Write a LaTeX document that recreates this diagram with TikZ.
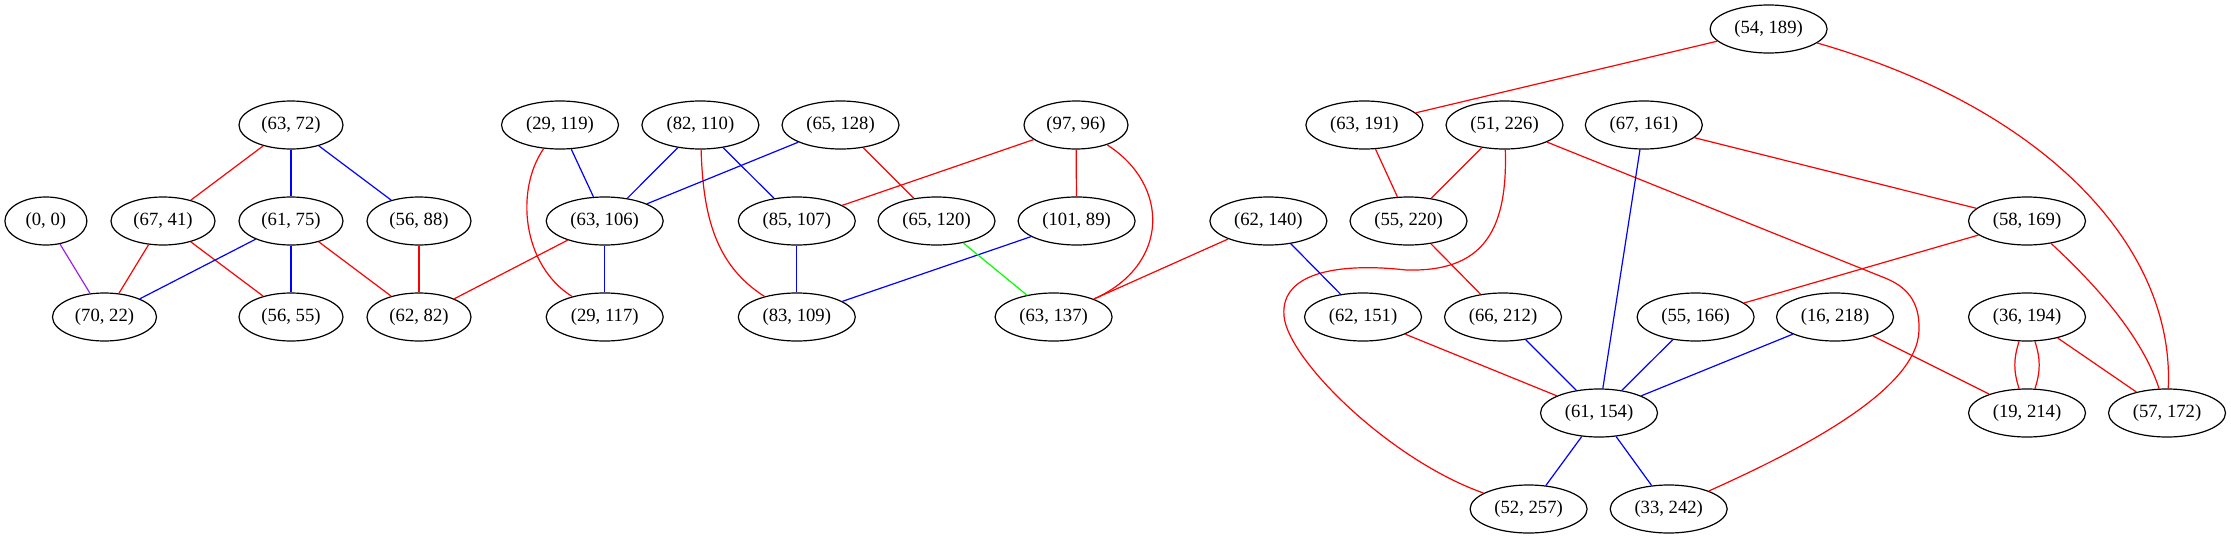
\documentclass[tikz,border=0pt]{standalone}
\usepackage{fontspec}
\setmainfont{Liberation Serif}
\usepackage{tikz}
\usetikzlibrary{shapes.geometric}
\definecolor{gvpurple}{RGB}{160,32,240}
\definecolor{gvgreen}{RGB}{0,255,0}

\begin{document}
\begin{tikzpicture}[x=0.75pt,y=-0.75pt,line width=0.9pt]
  \useasboundingbox (0,0) rectangle (2231,539);
  \begin{scope}[every node/.style={ellipse,draw,line width=0.9pt,inner sep=0pt,minimum width=78pt,minimum height=36pt,font=\fontsize{14pt}{16pt}\selectfont},
                wide/.style={minimum width=87.75pt}]
    % Top rows
    \node[wide] (p54_189) at (1768.6,29) {(54, 189)};
    \node (p63_72) at (291,125) {(63, 72)};
    \node[wide] (p29_119) at (560,125) {(29, 119)};
    \node[wide] (p82_110) at (700.4,125) {(82, 110)};
    \node[wide] (p65_128) at (840.5,125) {(65, 128)};
    \node (p97_96) at (1076,125) {(97, 96)};
    \node[wide] (p63_191) at (1364.4,125) {(63, 191)};
    \node[wide] (p51_226) at (1504.5,125) {(51, 226)};
    \node[wide] (p67_161) at (1643.8,125) {(67, 161)};

    % Middle row
    \node[minimum width=61.5pt] (p0_0) at (45.9,221) {(0, 0)};
    \node (p67_41) at (163,221) {(67, 41)};
    \node (p61_75) at (291,221) {(61, 75)};
    \node (p56_88) at (419,221) {(56, 88)};
    \node[wide] (p63_106) at (604.7,221) {(63, 106)};
    \node[wide] (p85_107) at (796.8,221) {(85, 107)};
    \node[wide] (p65_120) at (936.5,221) {(65, 120)};
    \node[wide] (p101_89) at (1076.6,221) {(101, 89)};
    \node[wide] (p62_140) at (1268.4,221) {(62, 140)};
    \node[wide] (p55_220) at (1408.5,221) {(55, 220)};
    \node[wide] (p58_169) at (2027,221) {(58, 169)};

    % Lower rows
    \node (p70_22) at (104.5,317) {(70, 22)};
    \node (p56_55) at (291,317) {(56, 55)};
    \node (p62_82) at (419,317) {(62, 82)};
    \node[wide] (p29_117) at (604.7,317) {(29, 117)};
    \node[wide] (p83_109) at (796.8,317) {(83, 109)};
    \node[wide] (p63_137) at (1053.6,317) {(63, 137)};
    \node[wide] (p62_151) at (1363,317) {(62, 151)};
    \node[wide] (p66_212) at (1503,317) {(66, 212)};
    \node[wide] (p55_166) at (1695.6,317) {(55, 166)};
    \node[wide] (p16_218) at (1835,317) {(16, 218)};
    \node[wide] (p36_194) at (2027,317) {(36, 194)};
    \node[wide] (p61_154) at (1599,413) {(61, 154)};
    \node[wide] (p19_214) at (2027,413) {(19, 214)};
    \node[wide] (p57_172) at (2167,413) {(57, 172)};
    \node[wide] (p52_257) at (1528.6,509) {(52, 257)};
    \node[wide] (p33_242) at (1668.7,509) {(33, 242)};
  \end{scope}

  % Red edges
  \draw[red] (p63_72) -- (p67_41);
  \draw[red] (p67_41) -- (p70_22);
  \draw[red] (p67_41) -- (p56_55);
  \draw[red] (p61_75) -- (p62_82);
  \draw[red] (p56_88) -- (p62_82);
  \draw[red] (p63_106) -- (p62_82);
  \draw[red] (p97_96) -- (p85_107);
  \draw[red] (p97_96) -- (p101_89);
  \draw[red] (p65_128) -- (p65_120);
  \draw[red] (p62_140) -- (p63_137);
  \draw[red] (p63_191) -- (p55_220);
  \draw[red] (p51_226) -- (p55_220);
  \draw[red] (p55_220) -- (p66_212);
  \draw[red] (p62_151) -- (p61_154);
  \draw[red] (p67_161) -- (p58_169);
  \draw[red] (p58_169) -- (p55_166);
  \draw[red] (p16_218) -- (p19_214);
  \draw[red] (p36_194) -- (p57_172);
  \draw[red] (p54_189) -- (p63_191);
  \draw[red] (p36_194) to[bend left=18] (p19_214);
  \draw[red] (p36_194) to[bend right=18] (p19_214);

  % Red curves
  \draw[red] (p29_119) .. controls (515,190) and (522,265) .. (p29_117);
  \draw[red] (p82_110) .. controls (703,215) and (715,265) .. (p83_109);
  \draw[red] (p97_96) .. controls (1170,185) and (1170,265) .. (p63_137);
  \draw[red] (p51_226) .. controls (1508,235) and (1480,272) .. (1406,270)
    .. controls (1345,263) and (1280,270) .. (1284,316)
    .. controls (1288,360) and (1390,460) .. (p52_257);
  \draw[red] (p51_226) -- (1885,278) .. controls (1905,286) and (1920,300) .. (1919,330)
    .. controls (1918,390) and (1800,450) .. (p33_242);
  \draw[red] (p54_189) .. controls (2050,110) and (2175,250) .. (p57_172);
  \draw[red] (p58_169) .. controls (2085,275) and (2140,330) .. (p57_172);

  % Blue edges
  \draw[blue] (p63_72) -- (p61_75);
  \draw[blue] (p63_72) -- (p56_88);
  \draw[blue] (p61_75) -- (p70_22);
  \draw[blue] (p61_75) -- (p56_55);
  \draw[blue] (p29_119) -- (p63_106);
  \draw[blue] (p82_110) -- (p63_106);
  \draw[blue] (p65_128) -- (p63_106);
  \draw[blue] (p63_106) -- (p29_117);
  \draw[blue] (p82_110) -- (p85_107);
  \draw[blue] (p85_107) -- (p83_109);
  \draw[blue] (p101_89) -- (p83_109);
  \draw[blue] (p62_140) -- (p62_151);
  \draw[blue] (p67_161) -- (p61_154);
  \draw[blue] (p66_212) -- (p61_154);
  \draw[blue] (p55_166) -- (p61_154);
  \draw[blue] (p16_218) -- (p61_154);
  \draw[blue] (p61_154) -- (p52_257);
  \draw[blue] (p61_154) -- (p33_242);

  % Other colours
  \draw[gvpurple] (p0_0) -- (p70_22);
  \draw[gvgreen] (p65_120) -- (p63_137);
\end{tikzpicture}
\end{document}
